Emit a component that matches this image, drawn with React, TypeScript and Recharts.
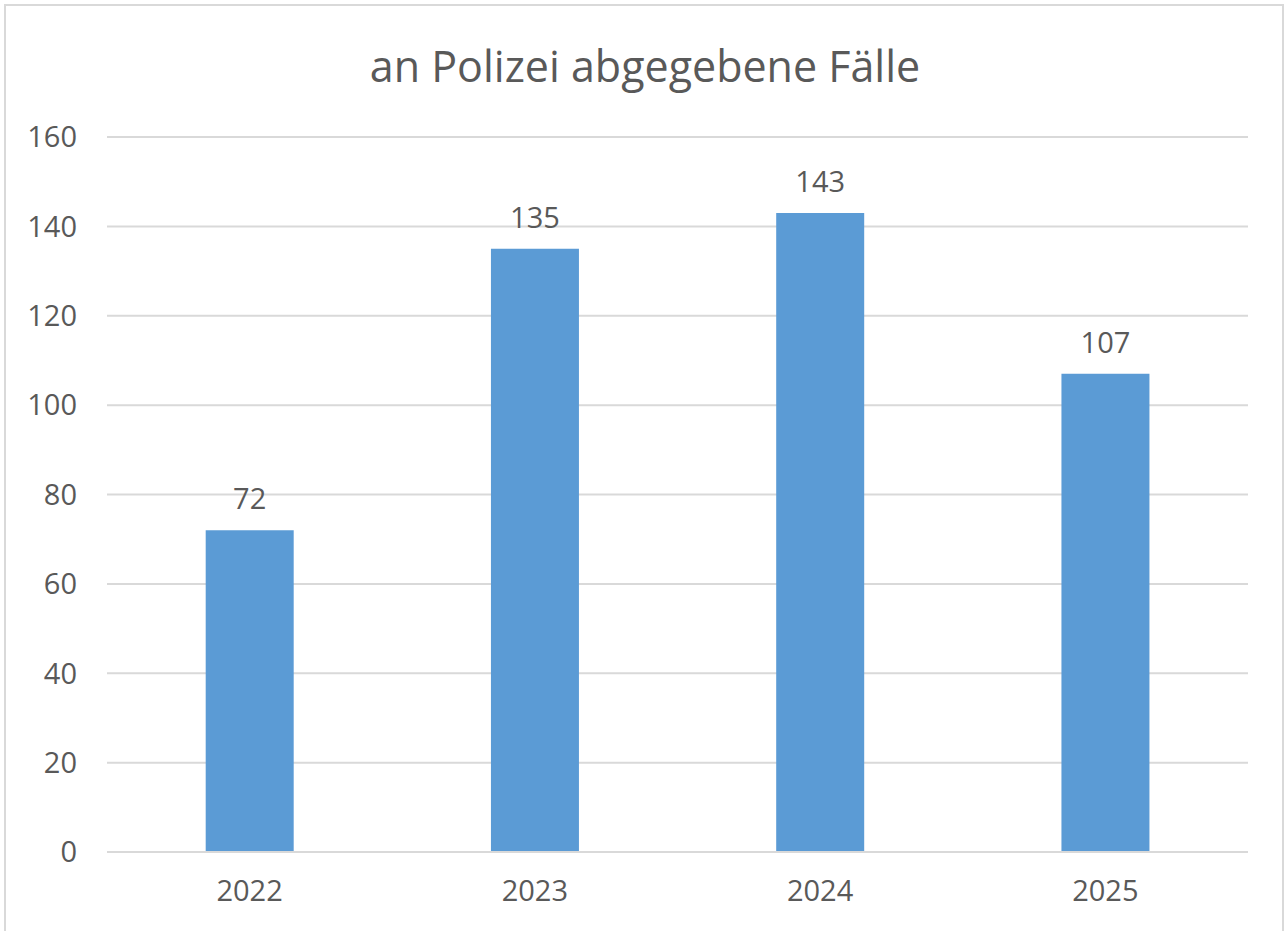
import { Bar, BarChart, XAxis, YAxis, CartesianGrid, LabelList } from "recharts"

const years = ["2022", "2023", "2024", "2025"]
const faelle = [72, 135, 143, 107]
const yTicks = [0, 20, 40, 60, 80, 100, 120, 140, 160]

const data = years.map((year, i) => ({ year, faelle: faelle[i] }))

const FONT = "'Open Sans', sans-serif"
const TEXT = "#595959"
const GRID = "#d9d9d9"

export default function App() {
  return (
    <div style={{ position: "absolute", left: 0, top: 0, width: 1288, height: 931, background: "#fff", overflow: "hidden" }}>
      <div
        style={{
          position: "absolute",
          left: 4,
          top: 4,
          width: 1280,
          height: 960,
          border: `2px solid ${GRID}`,
          boxSizing: "border-box",
        }}
      />
      <div
        style={{
          position: "absolute",
          left: 0,
          top: 36,
          width: 1290,
          textAlign: "center",
          fontFamily: FONT,
          fontSize: 43,
          color: TEXT,
          lineHeight: "60px",
        }}
      >
        an Polizei abgegebene Fälle
      </div>
      <div style={{ position: "absolute", left: 0, top: 0 }}>
        <BarChart
          width={1288}
          height={931}
          data={data}
          margin={{ top: 137, right: 40, left: 27, bottom: 29 }}
          barCategoryGap="34.6%"
        >
          <CartesianGrid vertical={false} stroke={GRID} strokeWidth={2} />
          <XAxis
            dataKey="year"
            axisLine={{ stroke: GRID, strokeWidth: 2 }}
            tickLine={false}
            tickSize={0}
            tickMargin={28}
            height={50}
            tick={{ fill: TEXT, fontSize: 29, fontFamily: FONT }}
          />
          <YAxis
            domain={[0, 160]}
            ticks={yTicks}
            axisLine={false}
            tickLine={false}
            tickSize={0}
            tickMargin={30}
            width={80}
            tick={{ fill: TEXT, fontSize: 29, fontFamily: FONT }}
          />
          <Bar dataKey="faelle" fill="#5b9bd5" isAnimationActive={false}>
            <LabelList dataKey="faelle" position="top" offset={21} fill={TEXT} fontSize={29} fontFamily={FONT} />
          </Bar>
        </BarChart>
      </div>
    </div>
  )
}
